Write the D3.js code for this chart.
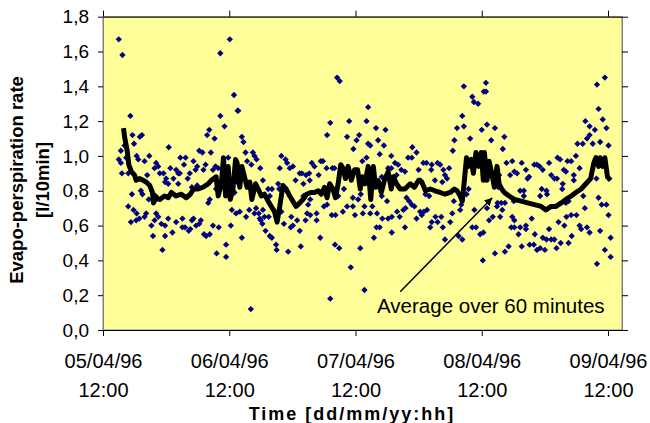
<!DOCTYPE html>
<html><head><meta charset="utf-8">
<script src="https://cdn.jsdelivr.net/npm/d3@7"></script>
<style>
body{margin:0;background:#fff}
svg{display:block}
text{font-family:"Liberation Sans",Arial,Helvetica,sans-serif;fill:#000}
</style>
</head><body>
<svg id="chart" width="650" height="423"></svg>
<script>
// ---------------- data ----------------
const yTickValues = [0, 0.2, 0.4, 0.6, 0.8, 1.0, 1.2, 1.4, 1.6, 1.8];
const xTickDates = ["1996-04-05T12:00:00Z","1996-04-06T12:00:00Z","1996-04-07T12:00:00Z","1996-04-08T12:00:00Z","1996-04-09T12:00:00Z"];
const startTime = "1996-04-05T12:00:00Z";
const domainHours = 98.66; // axis runs slightly past the last tick
const yTitleLines = ["Evapo-perspiration rate", "[l/10min]"];
const xTitle = "Time [dd/mm/yy:hh]";
const annotationText = "Average over 60 minutes";

// measured 10-minute values: [hours since start, rate l/10min]
const measuredPoints = [
[3.0,1.67],[3.7,1.58],[22.3,1.59],[24.1,1.67],[24.9,1.35],[25.6,1.26],[44.5,1.45],[45.0,1.43],[50.4,1.28],[68.6,1.40],[70.2,1.34],[70.5,1.31],[71.3,1.30],[72.4,1.37],[72.8,1.37],[72.8,1.42],[93.9,1.41],[95.4,1.45],[94.2,1.27],
[5.2,1.23],[22.3,1.23],[23.1,1.17],[5.6,1.12],[7.4,1.12],[7.0,1.11],[5.9,1.07],[4.1,1.06],[3.4,1.03],[20.2,1.15],[19.8,1.12],[21.2,1.10],[12.5,1.05],[18.3,1.03],[18.9,1.02],[20.5,1.02],[6.4,1.00],[4.4,0.99],[3.0,0.98],[3.4,0.96],[6.7,0.98],[7.9,0.97],[8.8,1.00],[14.7,0.99],[15.7,0.99],[17.2,0.97],[17.9,0.94],[17.6,0.92],[19.5,0.95],[15.4,0.95],[10.1,0.96],[10.5,0.94],[9.8,0.93],[12.8,0.93],[13.9,0.92],[14.3,0.90],[3.6,0.90],[4.8,0.90],[16.5,0.90],[21.4,0.94],[21.9,0.93],[20.9,0.92],[8.4,0.89],[10.8,0.90],[11.5,0.90],[12.0,0.87],[13.4,0.87],[14.6,0.90],[16.1,0.87],[19.1,0.92],[12.4,0.84],[11.8,0.85],[16.9,0.82],[17.9,0.83],[14.3,0.84],[7.2,0.80],[7.5,0.78],[5.5,0.78],[8.7,0.75],[10.0,0.77],[21.5,0.81],[20.3,0.75],[20.0,0.73],[4.8,0.71],[5.8,0.69],[6.4,0.67],[8.2,0.67],[7.9,0.65],[6.9,0.64],[10.1,0.67],[10.5,0.65],[9.8,0.63],[12.4,0.64],[13.9,0.62],[11.1,0.61],[11.8,0.60],[9.2,0.60],[15.1,0.64],[15.6,0.59],[16.3,0.57],[16.6,0.58],[16.9,0.63],[17.2,0.64],[18.3,0.61],[17.7,0.60],[18.6,0.63],[15.1,0.59],[5.3,0.62],[6.3,0.63],[9.5,0.54],[11.8,0.54],[13.2,0.56],[19.2,0.55],[19.6,0.54],[20.3,0.55],[20.9,0.60],[22.0,0.59],[11.3,0.46],[23.4,0.49],[21.6,0.44],[23.4,0.42],[23.8,0.99],
[25.7,1.26],[26.4,1.11],[26.7,1.08],[43.2,1.19],[46.8,1.20],[42.6,1.12],[46.4,1.11],[48.2,1.09],[47.6,1.04],[27.1,1.02],[28.5,1.02],[28.8,1.00],[29.2,0.98],[27.4,0.97],[28.2,0.95],[29.9,0.93],[33.9,1.00],[34.7,0.98],[35.0,0.96],[35.5,0.93],[33.6,0.93],[36.1,0.94],[39.7,0.96],[40.2,0.94],[41.4,0.97],[41.8,0.97],[37.4,0.90],[37.8,0.90],[38.6,0.89],[39.2,0.90],[41.0,0.89],[42.5,0.93],[43.6,0.93],[44.0,0.93],[36.6,0.86],[38.1,0.84],[39.3,0.86],[30.4,0.86],[25.7,0.89],[25.5,0.85],[33.3,0.84],[31.4,0.81],[32.1,0.81],[31.7,0.77],[33.5,0.81],[25.0,0.79],[38.1,0.77],[39.4,0.75],[47.5,0.76],[48.5,0.75],[45.8,0.81],[44.7,0.77],[39.0,0.72],[38.8,0.67],[26.0,0.68],[25.3,0.67],[24.5,0.69],[27.8,0.69],[29.1,0.70],[29.6,0.67],[30.4,0.69],[28.8,0.67],[27.2,0.65],[29.8,0.64],[30.0,0.63],[30.3,0.61],[30.7,0.65],[31.5,0.65],[30.9,0.57],[33.9,0.68],[35.8,0.65],[36.1,0.60],[35.7,0.59],[36.9,0.63],[37.4,0.57],[38.5,0.63],[39.4,0.66],[40.6,0.67],[40.6,0.63],[42.0,0.71],[42.6,0.72],[43.5,0.66],[44.2,0.66],[45.6,0.68],[46.4,0.71],[47.9,0.66],[47.5,0.71],[34.4,0.61],[24.3,0.60],[31.7,0.54],[32.1,0.53],[32.9,0.49],[33.0,0.46],[26.4,0.53],[35.2,0.45],[37.6,0.48],[41.3,0.53],[44.1,0.49],[44.9,0.47],[47.1,0.36],[43.2,0.18],[28.1,0.12],[49.7,0.23],
[50.1,1.20],[51.9,1.16],[53.7,1.15],[48.7,1.12],[50.4,1.07],[50.8,1.06],[52.3,1.09],[53.4,1.06],[68.3,1.23],[68.6,1.17],[67.3,1.16],[69.8,1.10],[66.8,1.09],[66.5,1.03],[72.0,1.15],[58.8,1.05],[59.6,1.02],[52.6,1.01],[54.8,1.00],[49.3,0.97],[50.1,0.99],[55.5,0.96],[56.1,0.95],[54.2,0.93],[54.8,0.93],[56.7,0.92],[57.4,0.91],[58.0,0.99],[58.7,0.99],[60.9,0.96],[61.5,0.96],[62.5,0.95],[63.6,0.96],[64.1,0.95],[60.0,0.92],[62.4,0.92],[64.7,0.92],[65.8,0.93],[65.0,0.89],[65.4,0.87],[55.8,0.89],[53.0,0.88],[60.3,0.86],[63.1,0.86],[64.5,0.85],[61.3,0.78],[62.0,0.77],[49.0,0.78],[54.0,0.74],[53.0,0.77],[57.7,0.76],[58.2,0.74],[58.7,0.72],[59.2,0.71],[66.7,0.74],[68.1,0.72],[67.9,0.69],[70.6,0.69],[69.5,0.81],[69.1,0.78],[49.7,0.71],[51.2,0.71],[50.8,0.67],[52.1,0.67],[49.4,0.67],[55.9,0.68],[54.9,0.65],[54.2,0.64],[53.1,0.64],[56.4,0.65],[57.1,0.69],[57.5,0.70],[59.6,0.64],[60.3,0.68],[60.6,0.66],[61.0,0.68],[61.6,0.69],[63.2,0.65],[64.3,0.65],[62.5,0.62],[63.6,0.62],[66.0,0.62],[66.4,0.67],[62.2,0.59],[64.6,0.59],[57.4,0.59],[52.0,0.59],[52.6,0.59],[54.9,0.56],[51.5,0.53],[48.9,0.47],[65.0,0.52],[67.6,0.54],[68.3,0.52],[70.2,0.59],[70.9,0.59],[71.7,0.55],[72.3,0.56],[72.2,0.40],
[95.0,1.21],[91.7,1.20],[92.5,1.17],[95.7,1.16],[93.5,1.15],[73.0,1.18],[74.5,1.16],[73.8,1.09],[76.3,1.11],[76.0,1.04],[90.2,1.07],[91.2,1.07],[92.0,1.10],[92.5,1.12],[93.1,1.07],[94.5,1.08],[96.1,1.06],[89.9,1.00],[86.4,0.99],[86.9,0.98],[88.3,0.97],[89.0,0.97],[77.8,0.97],[76.7,0.96],[79.6,0.96],[82.0,0.95],[82.5,0.95],[83.0,0.94],[80.4,0.92],[83.6,0.92],[84.8,0.96],[78.2,0.91],[78.7,0.90],[85.2,0.89],[85.8,0.87],[86.3,0.87],[90.6,0.93],[87.6,0.92],[88.0,0.91],[81.0,0.88],[80.7,0.87],[77.4,0.89],[89.5,0.89],[89.5,0.86],[87.4,0.84],[87.3,0.81],[83.4,0.81],[84.3,0.80],[79.3,0.80],[80.0,0.80],[75.0,0.92],[75.3,0.89],[73.0,0.92],[74.6,0.84],[75.2,0.82],[93.8,0.87],[91.3,0.77],[94.2,0.76],[94.8,0.72],[95.7,0.72],[91.6,0.70],[88.0,0.73],[88.5,0.74],[80.0,0.77],[78.1,0.74],[83.1,0.77],[84.4,0.78],[75.0,0.73],[75.7,0.73],[76.4,0.73],[75.9,0.69],[73.0,0.70],[74.9,0.71],[74.1,0.65],[73.4,0.63],[75.5,0.65],[77.8,0.65],[78.2,0.63],[78.2,0.59],[77.6,0.59],[79.3,0.59],[80.4,0.60],[80.4,0.58],[81.5,0.64],[88.1,0.65],[89.0,0.66],[90.0,0.66],[86.6,0.62],[87.7,0.60],[84.8,0.58],[90.6,0.60],[90.9,0.58],[92.0,0.59],[92.5,0.56],[94.5,0.57],[96.1,0.66],[79.0,0.55],[82.1,0.55],[83.6,0.53],[84.3,0.52],[85.2,0.52],[85.8,0.52],[87.0,0.50],[88.5,0.50],[89.1,0.54],[81.1,0.49],[81.9,0.49],[82.5,0.46],[83.1,0.47],[84.0,0.46],[79.6,0.48],[86.2,0.47],[77.1,0.48],[76.4,0.45],[74.5,0.44],[96.5,0.53],[95.4,0.46],[96.5,0.42],[93.9,0.38]
];

// 60-minute moving average: [hours since start, rate]
const averageLine = [
[3.9,1.16],[4.1,1.11],[4.6,1.03],[4.9,0.95],[5.4,0.91],[6.0,0.89],[6.3,0.86],[7.0,0.87],[7.6,0.86],[8.2,0.85],[8.9,0.83],[9.4,0.79],[9.6,0.73],[10.1,0.76],[10.8,0.75],[11.7,0.77],[12.4,0.76],[13.0,0.79],[13.9,0.77],[14.9,0.78],[15.8,0.76],[16.6,0.78],[17.2,0.81],[18.1,0.81],[19.0,0.82],[20.0,0.84],[20.6,0.86],[21.5,0.88],[21.9,0.77],[22.5,0.84],[22.9,0.99],[23.3,0.77],[23.8,0.94],[24.2,0.75],[24.7,0.81],[25.2,0.98],[25.5,0.96],[26.0,0.82],[26.4,0.94],[26.9,0.88],[27.4,0.82],[27.9,0.85],[28.3,0.75],[29.0,0.84],[29.5,0.81],[30.1,0.77],[30.7,0.78],[31.4,0.74],[32.0,0.71],[32.6,0.68],[33.1,0.62],[33.6,0.71],[34.2,0.83],[34.8,0.81],[35.5,0.77],[36.1,0.74],[36.7,0.71],[37.4,0.73],[38.0,0.75],[38.7,0.78],[39.5,0.79],[40.2,0.79],[40.9,0.80],[41.5,0.78],[42.1,0.82],[42.6,0.76],[43.1,0.84],[43.7,0.81],[44.2,0.76],[44.7,0.84],[45.2,0.95],[45.6,0.93],[46.1,0.87],[46.6,0.94],[47.2,0.86],[47.8,0.92],[48.4,0.92],[48.9,0.81],[49.3,0.88],[49.8,0.84],[50.4,0.94],[50.9,0.75],[51.4,0.94],[51.8,0.82],[52.3,0.86],[52.9,0.79],[53.5,0.86],[54.2,0.91],[54.8,0.81],[55.2,0.88],[55.8,0.84],[56.5,0.81],[57.4,0.81],[58.4,0.84],[59.2,0.82],[60.0,0.86],[60.6,0.85],[61.3,0.80],[62.2,0.81],[63.1,0.80],[64.1,0.79],[65.0,0.78],[66.0,0.79],[66.8,0.81],[67.3,0.80],[67.9,0.77],[68.3,0.74],[68.7,0.86],[69.1,0.99],[69.5,0.94],[70.0,0.98],[70.4,0.90],[70.9,1.02],[71.4,0.94],[71.9,1.02],[72.3,0.86],[72.5,1.02],[73.0,0.86],[73.4,0.97],[73.9,0.90],[74.4,0.82],[74.9,0.94],[75.3,0.84],[75.8,0.81],[76.3,0.79],[77.2,0.77],[78.2,0.75],[79.5,0.74],[80.7,0.73],[82.0,0.72],[83.3,0.71],[84.2,0.69],[85.2,0.71],[86.1,0.71],[87.1,0.73],[88.0,0.75],[89.0,0.77],[89.9,0.79],[90.9,0.81],[91.8,0.84],[92.7,0.87],[93.3,0.96],[93.7,0.99],[94.2,0.94],[94.5,0.99],[95.0,0.94],[95.4,0.99],[95.9,0.88],[96.5,0.86]
];

// annotation anchor points in data units [hours, rate]
const arrowTail = [56.5, 0.22];
const arrowHead = [74.0, 0.76];
const annotationAnchor = [52.1, 0.098];

// ---------------- chart ----------------
const svg = d3.select("#chart");
const plot = {left: 103, right: 622, top: 16.7, bottom: 330};
const t0 = new Date(startTime).getTime();
const toDate = h => new Date(t0 + h * 3600e3);

const x = d3.scaleUtc().domain([toDate(0), toDate(domainHours)]).range([plot.left, plot.right]);
const y = d3.scaleLinear().domain([0, 1.8]).range([plot.bottom, plot.top]);
const tickDates = xTickDates.map(s => new Date(s));

// plot background
svg.append("rect")
  .attr("x", plot.left).attr("y", plot.top)
  .attr("width", plot.right - plot.left).attr("height", plot.bottom - plot.top)
  .attr("fill", "#FFFF99").attr("stroke", "#808080").attr("stroke-width", 1);

// markers
const diamond = d3.symbol().type(d3.symbolSquare).size(20);
svg.append("g").selectAll("path").data(measuredPoints).join("path")
  .attr("d", diamond)
  .attr("transform", d => `translate(${x(toDate(d[0]))},${y(d[1])}) rotate(45)`)
  .attr("fill", "#000080");

// moving average line
const line = d3.line().x(d => x(toDate(d[0]))).y(d => y(d[1]));
svg.append("path").datum(averageLine)
  .attr("d", line).attr("fill", "none").attr("stroke", "#000")
  .attr("stroke-width", 5).attr("stroke-linejoin", "round").attr("stroke-linecap", "butt");

// axes
const fmtY = d => d3.format(".1f")(d).replace(".", ",");
const gL = svg.append("g").attr("transform", `translate(${plot.left},0)`)
  .call(d3.axisLeft(y).tickValues(yTickValues).tickFormat(fmtY).tickSize(5).tickSizeOuter(0).tickPadding(9));
gL.select(".domain").attr("stroke", "#808080");
gL.selectAll(".tick line").attr("stroke", "#000");
gL.selectAll(".tick text").attr("font-size", 19).attr("font-family", "Liberation Sans, Arial, sans-serif");

const gR = svg.append("g").attr("transform", `translate(${plot.right},0)`)
  .call(d3.axisRight(y).tickValues(yTickValues).tickFormat("").tickSize(6).tickSizeOuter(0));
gR.select(".domain").attr("stroke", "#808080");
gR.selectAll(".tick line").attr("stroke", "#000");

const gT = svg.append("g").attr("transform", `translate(0,${plot.top})`)
  .call(d3.axisTop(x).tickValues(tickDates).tickFormat("").tickSize(6).tickSizeOuter(0));
gT.select(".domain").attr("stroke", "#000");
gT.selectAll(".tick line").attr("stroke", "#000");

const fmtD = d3.utcFormat("%d/%m/%y"), fmtH = d3.utcFormat("%H:%M");
const gB = svg.append("g").attr("transform", `translate(0,${plot.bottom})`)
  .call(d3.axisBottom(x).tickValues(tickDates).tickSize(6).tickSizeOuter(0));
gB.select(".domain").attr("stroke", "#000");
gB.selectAll(".tick line").attr("stroke", "#000");
gB.selectAll(".tick text").each(function(d) {
  const t = d3.select(this).text(null).attr("y", null).attr("dy", null)
    .attr("font-size", 20).attr("font-family", "Liberation Sans, Arial, sans-serif").attr("fill", "#000");
  t.append("tspan").attr("x", 0).attr("y", 38).text(fmtD(d));
  t.append("tspan").attr("x", 0).attr("y", 67).text(fmtH(d));
});

// axis titles
const yt = svg.append("text").attr("transform", "translate(0,180) rotate(-90)")
  .attr("text-anchor", "middle").attr("font-weight", "bold").attr("font-size", 18.5);
yt.append("tspan").attr("x", 0).attr("y", 23).text(yTitleLines[0]);
yt.append("tspan").attr("x", 0).attr("y", 49).text(yTitleLines[1]);

svg.append("text").attr("x", 352).attr("y", 420).attr("text-anchor", "middle")
  .attr("font-weight", "bold").attr("font-size", 18).attr("letter-spacing", 2).text(xTitle);

// annotation
svg.append("defs").append("marker").attr("id", "ah")
  .attr("viewBox", "0 0 10 10").attr("refX", 10).attr("refY", 5)
  .attr("markerWidth", 8).attr("markerHeight", 8).attr("markerUnits", "userSpaceOnUse")
  .attr("orient", "auto")
  .append("path").attr("d", "M0,0 L10,5 L0,10 z").attr("fill", "#000");
svg.append("line")
  .attr("x1", x(toDate(arrowTail[0]))).attr("y1", y(arrowTail[1]))
  .attr("x2", x(toDate(arrowHead[0]))).attr("y2", y(arrowHead[1]))
  .attr("stroke", "#000").attr("stroke-width", 1.5).attr("marker-end", "url(#ah)");
svg.append("text").attr("x", x(toDate(annotationAnchor[0]))).attr("y", y(annotationAnchor[1]))
  .attr("font-size", 20.5).text(annotationText);
</script>
</body></html>
